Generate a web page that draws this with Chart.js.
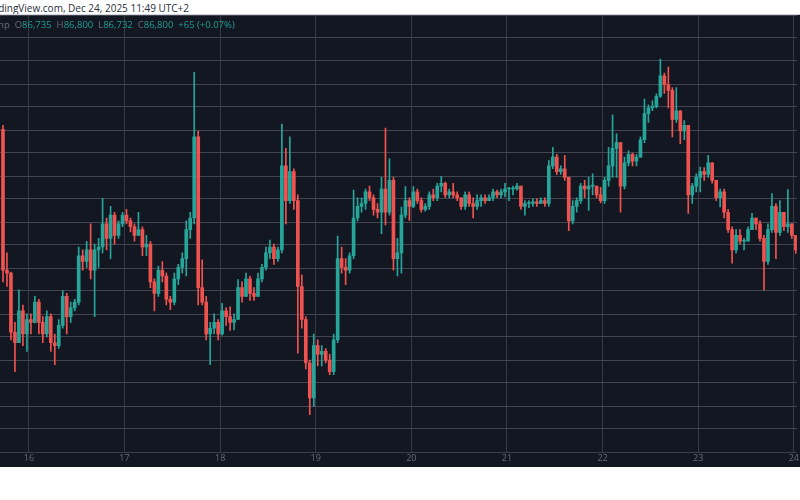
<!DOCTYPE html>
<html>
<head>
<meta charset="utf-8">
<script src="https://cdn.jsdelivr.net/npm/chart.js@4.4.1/dist/chart.umd.min.js"></script>
<style>
  html, body { margin: 0; padding: 0; background: #ffffff; width: 800px; height: 500px; overflow: hidden; }
  #stamp { position: absolute; left: -17px; top: 1px; font: 10px "Open Sans", sans-serif; color: #2a2e39; white-space: nowrap; }
  #topline { position: absolute; left: 0; top: 14px; width: 800px; height: 1px; background: #d1d4dc; }
  #wrap { position: absolute; left: 0; top: 15px; width: 800px; height: 452px; background: #131722; }
  #legend { position: absolute; left: -30px; top: 18px; font: 9.5px "Open Sans", sans-serif; color: #6a6d78; white-space: nowrap; }
  #legend b { font-weight: normal; color: #1f9e91; }
</style>
</head>
<body>
<div id="stamp">TradingView.com, Dec 24, 2025 11:49 UTC+2</div>
<div id="topline"></div>
<div id="wrap"><canvas id="chartCandles"></canvas></div>
<div id="legend">Bitstamp &nbsp;O<b>86,735</b> &nbsp;H<b>86,800</b> &nbsp;L<b>86,732</b> &nbsp;C<b>86,800</b> &nbsp;<b>+65 (+0.07%)</b></div>

<script>
// hourly candles, first one opens Dec 15 17:00 (hour -7 counted from Dec 16 00:00)
var startHour = -7;
var firstOpen = 89330;
var lastClose = 86800;
var dayLabels = ['16', '17', '18', '19', '20', '21', '22', '23', '24'];

var closes = [
  86900, 86850, 85830, 85650, 86200, 85800, 86050, 86000, 86350, 86000,
  85800, 86100, 85650, 85600, 85950, 86450, 86100, 86250, 86350, 87150,
  87050, 87250, 86900, 87250, 87300, 87700, 87450, 87850, 87500, 87700,
  87850, 87750, 87650, 87500, 87600, 87300, 87350, 86700, 86500, 86900,
  86800, 86400, 86350, 86750, 86950, 87100, 87600, 87800, 89200, 86600,
  86350, 85800, 85900, 86000, 85800, 86200, 86100, 86000, 86050, 86600,
  86450, 86750, 86500, 86450, 86750, 86950, 87200, 87300, 87100, 87250,
  88700, 88100, 88600, 88100, 86620, 86050, 85300, 84700, 85600, 85450,
  85500, 85350, 85150, 85700, 87100, 86950, 86900, 87150, 87800, 88000,
  88050, 88250, 88150, 87950, 87900, 88300, 87900, 88450, 87100, 87200,
  87850, 88100, 88000, 88250, 88100, 87950, 88000, 88200, 88150, 88350,
  88400, 88200, 88250, 88200, 88150, 88000, 88200, 88050, 88000, 88100,
  88150, 88100, 88150, 88250, 88200, 88250, 88300, 88300, 88300, 88350,
  88000, 88050, 88050, 88080, 88050, 88100, 88050, 88700, 88850, 88600,
  88650, 88500, 87750, 88000, 88100, 88350, 88300, 88350, 88350, 88200,
  88100, 88450, 88700, 89000, 89100, 88350, 88750, 88900, 88780, 88850,
  89150, 89600, 89700, 89720, 89900, 90250, 90100, 90000, 89500, 89650,
  89300, 89400, 88200, 88350, 88500, 88600, 88550, 88750, 88450, 88150,
  88250, 87900, 87600, 87250, 87500, 87400, 87400, 87600, 87800, 87700,
  87450, 87050, 87600, 88000, 87550, 87900, 87650, 87700, 87500, 87250
];
var highs = [
  89400, 87200, 86870, 86000, 86560, 86300, 86150, 86150, 86450, 86400,
  86100, 86200, 86150, 85800, 86050, 86550, 86500, 86350, 86400, 87300,
  87250, 87400, 87700, 87350, 87450, 88140, 87800, 88000, 87900, 87750,
  87900, 87950, 87800, 87700, 87900, 87650, 87500, 87400, 86750, 86970,
  87050, 86850, 86450, 86850, 87000, 87200, 87750, 87900, 90310, 89300,
  87080, 86450, 86000, 86150, 86050, 86330, 86250, 86270, 86150, 86740,
  86700, 86850, 86800, 86600, 86850, 87000, 87300, 87420, 87350, 87300,
  89420, 89000, 89200, 88650, 88200, 86820, 86100, 85350, 85800, 85700,
  85600, 85550, 85450, 85800, 87490, 87300, 87100, 87200, 88280, 88150,
  88150, 88300, 88350, 88200, 88050, 88500, 89350, 88820, 88500, 87450,
  87990, 88340, 88150, 88340, 88300, 88150, 88050, 88250, 88300, 88400,
  88520, 88420, 88300, 88400, 88250, 88150, 88250, 88250, 88150, 88200,
  88200, 88200, 88200, 88300, 88280, 88300, 88400, 88330, 88350, 88400,
  88350, 88100, 88100, 88130, 88130, 88150, 88150, 88790, 89020, 88900,
  88700, 88880, 88500, 88100, 88150, 88400, 88450, 88500, 88560, 88350,
  88330, 88500, 89020, 89580, 89250, 89100, 88850, 88960, 88920, 88900,
  89200, 89850, 89750, 89820, 89940, 90540, 90300, 90400, 90050, 90050,
  89650, 89480, 89400, 88400, 88560, 88680, 88670, 88880, 88750, 88450,
  88300, 88300, 87950, 87650, 87600, 87600, 87450, 87650, 87880, 87800,
  87750, 87500, 87700, 88220, 88050, 88100, 87900, 88290, 87700, 87500
];
var lows = [
  86700, 86620, 85700, 85150, 85650, 85600, 85500, 85800, 85990, 85800,
  85650, 85750, 85500, 85270, 85550, 85900, 85800, 86000, 86200, 86300,
  86900, 86950, 86750, 86100, 86950, 87200, 87250, 87100, 87350, 87450,
  87650, 87700, 87560, 87400, 87500, 87150, 87150, 86600, 86200, 86450,
  86700, 86300, 86220, 86300, 86650, 86850, 86800, 87450, 87700, 86300,
  86300, 85700, 85270, 85800, 85700, 85780, 85950, 85860, 85870, 86050,
  86350, 86450, 86380, 86380, 86450, 86700, 86900, 87100, 87000, 87050,
  87200, 87700, 88050, 87950, 85470, 85900, 85200, 84410, 84550, 85250,
  85250, 85300, 85100, 85100, 85650, 86850, 86650, 86850, 87100, 87750,
  87900, 87950, 88100, 87850, 87800, 87530, 87680, 87850, 86900, 86800,
  86850, 87800, 87760, 87980, 88050, 87900, 87920, 87950, 88100, 88100,
  88250, 88150, 88150, 88150, 88100, 87950, 87950, 88000, 87800, 87950,
  88000, 88050, 88100, 88100, 88150, 88150, 88170, 88100, 88200, 88280,
  87950, 87850, 87980, 88000, 88000, 88050, 88000, 88000, 88650, 88550,
  88550, 88450, 87580, 87700, 87900, 88050, 88150, 87930, 88200, 88150,
  88060, 88050, 88350, 88500, 88500, 87900, 88300, 88700, 88700, 88700,
  88850, 89100, 89450, 89650, 89700, 89880, 89950, 89700, 89200, 89450,
  89080, 89150, 87880, 88050, 88250, 88250, 88450, 88500, 88400, 88100,
  87990, 87800, 87550, 87020, 87200, 87350, 87250, 87400, 87600, 87600,
  87400, 86560, 87000, 87550, 87100, 87500, 87580, 87550, 87450, 87190
];

var upColor = '#26a69a';
var downColor = '#ef5350';

var wicks = [], bodies = [], colors = [];
for (var i = 0; i < closes.length; i++) {
  var o = i === 0 ? firstOpen : closes[i - 1];
  var c = closes[i];
  var t = startHour + i + 0.5;
  wicks.push({ x: t, y: [lows[i], highs[i]] });
  bodies.push({ x: t, y: [o, c] });
  colors.push(c >= o ? upColor : downColor);
}

new Chart(document.getElementById('chartCandles'), {
  type: 'bar',
  data: {
    datasets: [
      { data: wicks, backgroundColor: colors, barThickness: 1, grouped: false, borderSkipped: false },
      { data: bodies, backgroundColor: colors, barThickness: 3, minBarLength: 1, grouped: false, borderSkipped: false }
    ]
  },
  options: {
    responsive: true,
    maintainAspectRatio: false,
    animation: false,
    events: [],
    layout: { padding: 0 },
    plugins: { legend: { display: false }, tooltip: { enabled: false } },
    scales: {
      x: {
        type: 'linear',
        min: -7.25,
        max: 192.75,
        offset: false,
        afterFit: function(s) { s.height = 15; },
        ticks: {
          stepSize: 24,
          includeBounds: false,
          autoSkip: false,
          maxRotation: 0,
          padding: 1,
          color: '#6a6d78',
          font: { size: 9, family: 'Open Sans' },
          callback: function(v) { return dayLabels[v / 24]; }
        },
        grid: { offset: false, color: '#363a45', drawTicks: false },
        border: { display: true, color: '#3a3e49' }
      },
      y: {
        position: 'right',
        min: 83766,
        max: 91300,
        afterFit: function(s) { s.width = 0; },
        ticks: { display: false, stepSize: 400, includeBounds: false },
        grid: {
          drawTicks: false,
          color: function(ctx) { return ctx.tick && ctx.tick.value === lastClose ? '#2f5e60' : '#434651'; }
        },
        border: { display: false }
      }
    }
  }
});
</script>
</body>
</html>
